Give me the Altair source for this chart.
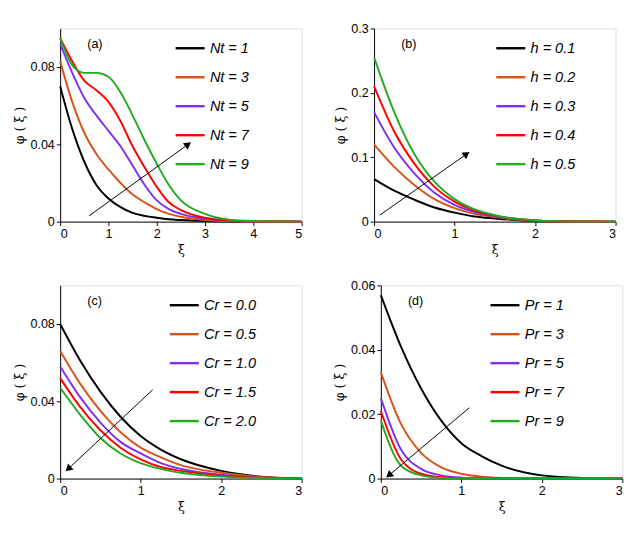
import math
import altair as alt
import pandas as pd

COLORS = ["#000000", "#D95319", "#7E2FEF", "#FF0000", "#22AA22"]
W, H = 250, 200

# panel (a)
xa = [0, 0.25, 0.5, 0.75, 1, 1.25, 1.5, 1.75, 2, 2.25, 2.5, 3, 3.5, 4, 5]
nt1 = [0.07, 0.048, 0.031, 0.019, 0.012, 0.0075, 0.0045, 0.003, 0.002, 0.0012, 0.0008, 0.0003, 0.0001, 0, 0]
nt3 = [0.083, 0.062, 0.046, 0.035, 0.027, 0.02, 0.014, 0.01, 0.0065, 0.004, 0.0025, 0.0008, 0.0002, 0.0001, 0]
nt5 = [0.092, 0.077, 0.064, 0.055, 0.047, 0.039, 0.029, 0.019, 0.011, 0.0065, 0.004, 0.0015, 0.0005, 0.0001, 0]
nt7 = [0.095, 0.083, 0.073, 0.068, 0.062, 0.052, 0.039, 0.028, 0.018, 0.01, 0.006, 0.002, 0.0006, 0.0002, 0]
nt9 = [0.095, 0.081, 0.077, 0.077, 0.075, 0.067, 0.055, 0.042, 0.03, 0.019, 0.011, 0.004, 0.001, 0.0003, 0]
labels_a = ["Nt = 1", "Nt = 3", "Nt = 5", "Nt = 7", "Nt = 9"]

# panels (b)-(d)
xb = [0, 0.25, 0.5, 0.75, 1, 1.25, 1.5, 2, 2.5, 3]
h1 = [0.066, 0.048, 0.034, 0.022, 0.014, 0.008, 0.005, 0.001, 0.0002, 0]
h2 = [0.12, 0.085, 0.057, 0.035, 0.021, 0.012, 0.007, 0.0015, 0.0003, 0]
h3 = [0.17, 0.115, 0.075, 0.045, 0.026, 0.015, 0.008, 0.002, 0.0003, 0]
h4 = [0.21, 0.14, 0.09, 0.054, 0.031, 0.017, 0.009, 0.002, 0.0003, 0]
h5 = [0.255, 0.17, 0.105, 0.062, 0.035, 0.019, 0.01, 0.002, 0.0003, 0]
labels_b = ["h = 0.1", "h = 0.2", "h = 0.3", "h = 0.4", "h = 0.5"]

cr0 = [0.08, 0.061, 0.045, 0.032, 0.022, 0.015, 0.01, 0.004, 0.001, 0]
cr05 = [0.066, 0.049, 0.035, 0.024, 0.016, 0.011, 0.007, 0.003, 0.0008, 0]
cr1 = [0.058, 0.042, 0.029, 0.019, 0.013, 0.008, 0.005, 0.002, 0.0005, 0]
cr15 = [0.052, 0.037, 0.025, 0.016, 0.01, 0.006, 0.004, 0.0015, 0.0004, 0]
cr2 = [0.047, 0.033, 0.021, 0.013, 0.008, 0.005, 0.003, 0.001, 0.0003, 0]
labels_c = ["Cr = 0.0", "Cr = 0.5", "Cr = 1.0", "Cr = 1.5", "Cr = 2.0"]

pr1 = [0.057, 0.041, 0.028, 0.018, 0.011, 0.007, 0.004, 0.001, 0.0002, 0]
pr3 = [0.033, 0.017, 0.008, 0.0035, 0.0015, 0.0006, 0.0002, 0, 0, 0]
pr5 = [0.025, 0.009, 0.003, 0.001, 0.0003, 0.0001, 0, 0, 0, 0]
pr7 = [0.021, 0.006, 0.0015, 0.0004, 0.0001, 0, 0, 0, 0, 0]
pr9 = [0.018, 0.004, 0.001, 0.0002, 0, 0, 0, 0, 0, 0]
labels_d = ["Pr = 1", "Pr = 3", "Pr = 5", "Pr = 7", "Pr = 9"]


def panel(tag, xs, series, labels, xmax, ymax, ystep, arrow, legx):
    rows = []
    for lab, ys in zip(labels, series):
        for x, y in zip(xs, ys):
            rows.append({"x": x, "y": y, "s": lab})
    df = pd.DataFrame(rows)
    xsc = alt.Scale(domain=[0, xmax], nice=False)
    ysc = alt.Scale(domain=[0, ymax], nice=False)
    ax_style = dict(grid=False, tickSize=4, labelFontSize=13, titleFontSize=13,
                    titleFontWeight="normal", labelColor="black", domainColor="black",
                    tickColor="black", titleFont="DejaVu Serif", labelOverlap=False,
                    labelFont="Liberation Sans")
    yvals = [round(i * ystep, 4) for i in range(int(round(ymax / ystep)) + 1)]
    lines = alt.Chart(df).mark_line(interpolate="monotone", strokeWidth=2).encode(
        x=alt.X("x:Q", scale=xsc, title="ξ",
                axis=alt.Axis(values=list(range(xmax + 1)), format="d", **ax_style)),
        y=alt.Y("y:Q", scale=ysc, title="φ ( ξ )",
                axis=alt.Axis(values=yvals, format=".2~f", **ax_style)),
        color=alt.Color("s:N", sort=labels, scale=alt.Scale(domain=labels, range=COLORS),
                        legend=alt.Legend(title=None, orient="none", legendX=legx, legendY=4,
                                          symbolType="stroke", symbolSize=900, symbolStrokeWidth=2.5,
                                          labelFontSize=15, labelFontStyle="italic",
                                          labelFont="Liberation Sans", rowPadding=5)),
    )
    x1, y1, x2, y2 = arrow
    dx = (x2 - x1) / xmax * W
    dy = (y2 - y1) / ymax * H
    ang = math.degrees(math.atan2(dx, dy)) % 360
    adf = pd.DataFrame([{"x": x1, "y": y1, "x2": x2, "y2": y2}])
    rule = alt.Chart(adf).mark_rule(color="black", strokeWidth=1).encode(
        x="x:Q", y="y:Q", x2="x2:Q", y2="y2:Q")
    head = alt.Chart(adf).mark_point(shape="triangle-up", filled=True, color="black",
                                     size=70, angle=ang, opacity=1).encode(x="x2:Q", y="y2:Q")
    tdf = pd.DataFrame([{"t": tag}])
    txt = alt.Chart(tdf).mark_text(align="left", baseline="top", fontSize=13,
                                   font="Liberation Sans").encode(
        x=alt.value(28), y=alt.value(10), text="t:N")
    return alt.layer(lines, rule, head, txt).properties(width=W, height=H)


pa = panel("(a)", xa, [nt1, nt3, nt5, nt7, nt9], labels_a, 5, 0.1, 0.02, (0.6, 0.003, 2.65, 0.04), 118)
pb = panel("(b)", xb, [h1, h2, h3, h4, h5], labels_b, 3, 0.3, 0.05, (0.07, 0.01, 1.15, 0.105), 125)
pc = panel("(c)", xb, [cr0, cr05, cr1, cr15, cr2], labels_c, 3, 0.1, 0.02, (1.15, 0.046, 0.1, 0.005), 112)
pd_ = panel("(d)", xb, [pr1, pr3, pr5, pr7, pr9], labels_d, 3, 0.06, 0.01, (1.1, 0.022, 0.1, 0.001), 112)

top = alt.hconcat(pa, pb, spacing=28).resolve_scale(color="independent")
bottom = alt.hconcat(pc, pd_, spacing=28).resolve_scale(color="independent")
chart = alt.vconcat(top, bottom, spacing=22).resolve_scale(color="independent").configure_view(
    stroke="black", strokeWidth=1).configure(background="white")

chart.save("out.html", embed_options={"renderer": "svg", "actions": False})
